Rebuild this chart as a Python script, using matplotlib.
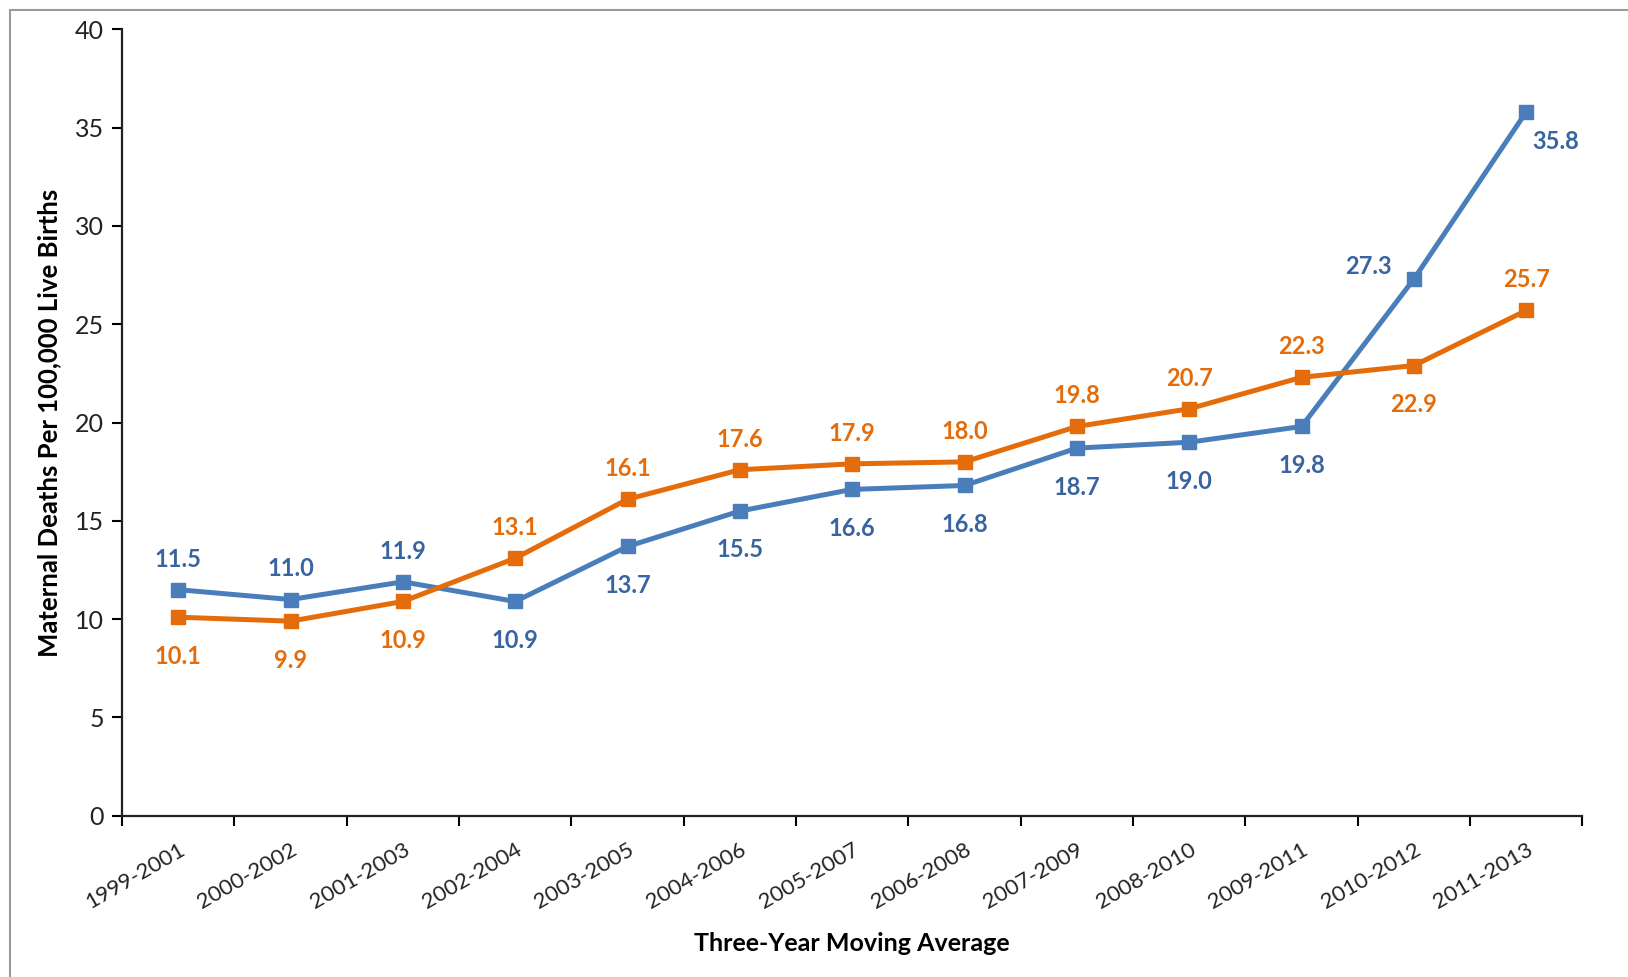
import matplotlib.pyplot as plt
from matplotlib.patches import Rectangle

# Data
periods = ["1999-2001", "2000-2002", "2001-2003", "2002-2004", "2003-2005",
           "2004-2006", "2005-2007", "2006-2008", "2007-2009", "2008-2010",
           "2009-2011", "2010-2012", "2011-2013"]
blue_vals = [11.5, 11.0, 11.9, 10.9, 13.7, 15.5, 16.6, 16.8, 18.7, 19.0, 19.8, 27.3, 35.8]
orange_vals = [10.1, 9.9, 10.9, 13.1, 16.1, 17.6, 17.9, 18.0, 19.8, 20.7, 22.3, 22.9, 25.7]

# where each value label sits relative to its marker
blue_pos = ["up", "up", "up", "down", "down", "down", "down", "down", "down",
            "down", "down", "left", "downright"]
orange_pos = ["down", "down", "down", "up", "up", "up", "up", "up", "up",
              "up", "up", "down", "up"]

blue = "#4A7EBB"
blue_txt = "#3A64A0"
orange = "#E46C0A"

plt.rcParams['font.family'] = ['Lato', 'DejaVu Sans']

fig = plt.figure(figsize=(16.28, 9.77), dpi=100)
ax = fig.add_axes([0.075, 0.165, 0.897, 0.805])

# thin grey frame around the chart area
fig.patches.append(Rectangle((10 / 1628, -0.05), 1.2, 1 - 9.5 / 977 + 0.05,
                             transform=fig.transFigure, fill=False,
                             edgecolor="#9a9a9a", linewidth=1.5))

x = list(range(len(periods)))
ax.plot(x, blue_vals, color=blue, lw=3.6, marker="s", ms=10.5, zorder=3)
ax.plot(x, orange_vals, color=orange, lw=3.6, marker="s", ms=10.5, zorder=3)

offsets = {"up": (0, 22, "center"), "down": (0, -28, "center"),
           "left": (-16, 9, "right"), "downright": (4, -21, "left")}

def label(vals, pos, color):
    for i, (v, p) in enumerate(zip(vals, pos)):
        dx, dy, ha = offsets[p]
        ax.annotate(f"{v:.1f}", (i, v), xytext=(dx, dy), textcoords="offset points",
                    ha=ha, va="center", fontsize=17, fontweight="bold", color=color)

label(blue_vals, blue_pos, blue_txt)
label(orange_vals, orange_pos, orange)

ax.set_xlim(-0.5, len(periods) - 0.5)
ax.set_ylim(0, 40)
ax.set_yticks(range(0, 41, 5))
ax.set_xticks([i - 0.5 for i in range(len(periods) + 1)])
ax.set_xticklabels([])
ax.set_xticks(x, minor=True)
ax.set_xticklabels(periods, minor=True, rotation=30, ha="right",
                   rotation_mode="anchor", fontsize=16, color="#222222")
ax.tick_params(axis="x", which="minor", length=0, pad=17)
ax.tick_params(axis="x", which="major", length=7, width=1.5, direction="out")
ax.tick_params(axis="y", length=7, width=1.5, direction="out", labelsize=18,
               labelcolor="#222222", pad=6)

for s in ["top", "right"]:
    ax.spines[s].set_visible(False)
for s in ["left", "bottom"]:
    ax.spines[s].set_linewidth(1.6)
    ax.spines[s].set_color("#222222")

ax.set_ylabel("Maternal Deaths Per 100,000 Live Births", fontsize=18.5,
              fontweight="bold", labelpad=10)
ax.set_xlabel("Three-Year Moving Average", fontsize=18, fontweight="bold",
              labelpad=14)

fig.savefig("out.png", dpi=100)
